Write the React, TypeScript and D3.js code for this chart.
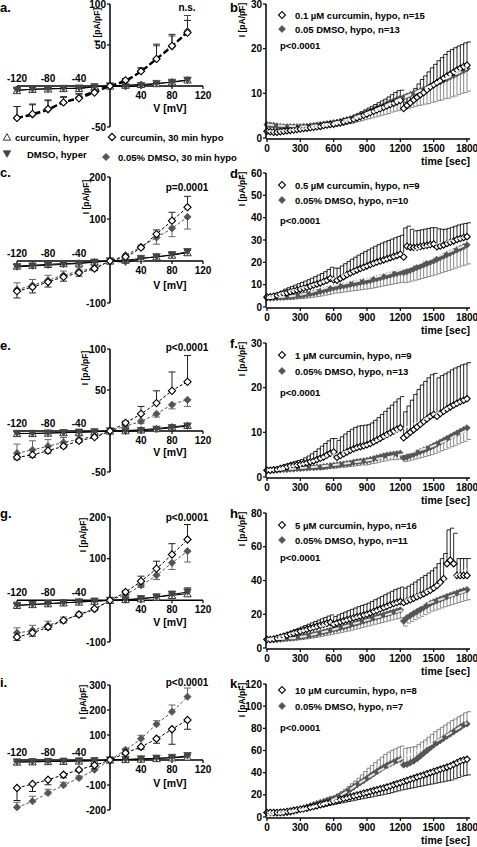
import React from 'react';
import * as d3 from 'd3';

const FONT = '"Liberation Sans", Arial, Helvetica, sans-serif';

// ---------------- IV data (voltage steps) ----------------
const V = [-120, -100, -80, -60, -40, -20, 0, 20, 40, 60, 80, 100];
const X_TICKS_NEG = [-120, -80, -40];
const X_TICKS_POS = [40, 80, 120];

// panel a
const aCurHyper = [-5.5, -4, -3.5, -3, -3, -1, 0, 1, 2, 3, 5, 7.5];
const aCurHyperErr = [2, 2, 2, 1.5, 1.5, 1, 0.5, 1, 1, 1, 1.5, 2];
const aDmsoHyper = [-5, -4, -3.5, -3, -2.5, -1, 0, -1, 0.5, 3, 4.5, 7];
const aDmsoHyperErr = [2, 2, 1.5, 1.5, 1, 1, 0.5, 1, 1, 1, 1.5, 2];
const aCurHypo = [-39, -34, -28, -20, -15, -8, 0, 7, 18, 33, 49, 65];
const aCurHypoErr = [14, 12, 11, 7, 5, 3, 1, 2, 4, 18, 14, 15];
const aDmsoHypo = [-39, -35, -29, -20, -14, -6, 0, 6, 18, 33, 48, 67];
const aDmsoHypoErr = [14, 12, 11, 6, 5, 3, 1, 2, 4, 16, 13, 19];

// panel c
const cCurHyper = [-12, -10, -8, -6, -5, -2, 0, 2, 6, 10, 14, 20];
const cCurHyperErr = [5, 4, 4, 3, 3, 3, 1, 2, 3, 3, 4, 5];
const cDmsoHyper = [-14, -12, -10, -8, -6, -3, 0, -3, 6, 10, 15, 22];
const cDmsoHyperErr = [4, 4, 3, 3, 3, 2, 1, 2, 3, 4, 5, 6];
const cCurHypo = [-72, -62, -50, -38, -28, -18, 0, 10, 32, 64, 96, 128];
const cCurHypoErr = [-16, -14, -12, -10, -8, -5, 0, 3, 6, 10, 20, 26];
const cDmsoHypo = [-68, -58, -46, -34, -24, -16, 0, 14, 34, 56, 78, 105];
const cDmsoHypoErr = [16, 14, 12, 10, 8, 5, 0, -3, -6, -16, -20, -29];

// panel e
const eCurHyper = [-3, -3, -2.5, -2, -1.5, -1, 0, 0.5, 1.5, 3, 5, 7];
const eCurHyperErr = [2, 2, 2, 2, 2, 1, 0.5, 1, 1, 1, 2, 2];
const eDmsoHyper = [-3, -3, -2.5, -2, -1.5, -1, 0, -0.5, 0.5, 2, 4, 6];
const eDmsoHyperErr = [2, 2, 2, 2, 1.5, 1, 0.5, 1, 1, 1, 1.5, 2];
const eCurHypo = [-32, -29, -24, -18.5, -12, -7.5, 0, 10, 21, 34, 49, 60];
const eCurHypoErr = [-3, -3, -3, -2, -2, -1, 0, 2, 9, 15, 23, 32];
const eDmsoHypo = [-27, -23, -18.5, -14, -10, -6, 0, 6, 12, 21, 32, 38];
const eDmsoHypoErr = [11, 11, 8, 6, 4, 3, 0, -2, -3, -4, -5, -8];

// panel g
const gCurHyper = [-12, -10, -8, -6, -4, -2, 0, 2, 4, 8, 12, 16];
const gCurHyperErr = [4, 4, 3, 3, 3, 2, 1, 2, 2, 3, 4, 4];
const gDmsoHyper = [-12, -10, -8, -6, -4, -2, 0, 1, 4, 8, 14, 20];
const gDmsoHyperErr = [3, 3, 3, 3, 3, 2, 1, 3, 4, 6, 8, 10];
const gCurHypo = [-88, -78, -64, -48, -34, -20, 0, 20, 46, 76, 110, 146];
const gCurHypoErr = [-8, -8, -6, -6, -5, -4, 0, 3, 12, 18, 26, 36];
const gDmsoHypo = [-78, -72, -60, -48, -34, -22, 0, 14, 36, 60, 90, 118];
const gDmsoHypoErr = [12, 12, 10, 8, 6, 4, 0, -3, -5, -10, -16, -26];

// panel i
const iCurHyper = [-8, -7, -6, -5, -4, -3, 0, 2, 4, 6, 9, 12];
const iCurHyperErr = [4, 4, 3, 3, 3, 3, 1, 3, 3, 4, 4, 5];
const iDmsoHyper = [-8, -7, -6, -5, -4, -3, 0, 2, 4, 7, 10, 17];
const iDmsoHyperErr = [3, 3, 3, 3, 3, 3, 1, 3, 3, 4, 5, 6];
const iCurHypo = [-112, -96, -79, -59, -39, -21, 0, 28, 53, 85, 123, 160];
const iCurHypoErr = [-50, -30, -20, -12, -8, -5, 0, -4, -10, -18, -60, -37];
const iDmsoHypo = [-189, -165, -132, -101, -72, -39, 0, 41, 85, 143, 193, 253];
const iDmsoHypoErr = [20, 20, 15, 12, 8, 5, 0, 5, 14, 14, 27, 35];

// ---------------- time course data (every 30 s) ----------------
const T = d3.range(0, 1801, 30);
const FT = [0, 300, 600, 900, 1200, 1500, 1800];
const TIME_TICKS = [0, 300, 600, 900, 1200, 1500, 1800];

// panel b
const bCur = [
  1.5, 1.4, 1.3, 1.3, 1.4, 1.5, 1.6, 1.7, 1.8, 1.9,
  2.0, 2.1, 2.2, 2.3, 2.4, 2.5, 2.6, 2.8, 2.9, 3.0,
  3.1, 3.3, 3.4, 3.6, 3.8, 4.0, 4.2, 4.5, 4.8, 5.1,
  5.4, 5.7, 6.0, 6.3, 6.6, 6.9, 7.2, 7.5, 7.8, 8.1,
  8.4, 6.6, 7.3, 7.9, 8.5, 9.1, 9.7, 10.2, 10.8, 11.4,
  11.9, 12.4, 12.9, 13.4, 13.9, 14.3, 14.8, 15.2, 15.6, 16.0,
  16.3];
const bCurErr = [
  0.4, 0.3, 0.3, 0.3, 0.3, 0.3, 0.3, 0.3, 0.3, 0.3,
  0.3, 0.3, 0.3, 0.4, 0.4, 0.4, 0.4, 0.5, 0.5, 0.5,
  0.5, 0.6, 0.6, 0.7, 0.7, 0.8, 0.9, 1.0, 1.1, 1.2,
  1.3, 1.4, 1.5, 1.6, 1.7, 1.8, 2.0, 2.2, 2.4, 2.5,
  2.3, 1.4, 1.8, 2.2, 2.6, 3.0, 3.4, 3.7, 4.0, 4.3,
  4.6, 4.9, 5.1, 5.3, 5.5, 5.5, 5.4, 5.4, 5.3, 5.3,
  5.2];
const bDmso = [
  3.0, 2.9, 2.8, 2.7, 2.6, 2.5, 2.5, 2.5, 2.5, 2.5,
  2.5, 2.6, 2.6, 2.7, 2.8, 2.9, 3.0, 3.1, 3.2, 3.3,
  3.4, 3.5, 3.7, 3.9, 4.1, 4.3, 4.6, 4.9, 5.2, 5.5,
  5.8, 6.1, 6.4, 6.7, 7.0, 7.3, 7.6, 8.0, 8.3, 8.6,
  8.9, 9.1, 9.4, 9.7, 10.0, 10.3, 10.6, 10.9, 11.2, 11.6,
  11.9, 12.3, 12.6, 13.0, 13.3, 13.7, 14.0, 14.4, 14.8, 15.1,
  15.5];
const bDmsoErr = [
  0.6, 0.6, 0.6, 0.5, 0.5, 0.5, 0.5, 0.5, 0.5, 0.5,
  0.5, 0.5, 0.5, 0.5, 0.5, 0.6, 0.6, 0.6, 0.7, 0.7,
  0.7, 0.8, 0.8, 0.9, 0.9, 1.0, 1.1, 1.2, 1.3, 1.4,
  1.5, 1.6, 1.7, 1.8, 1.9, 2.0, 2.1, 2.2, 2.3, 2.4,
  2.5, 2.6, 2.7, 2.8, 2.9, 3.0, 3.2, 3.3, 3.5, 3.6,
  3.8, 3.9, 4.1, 4.2, 4.4, 4.5, 4.6, 4.7, 4.8, 4.9,
  5.0];
const bCurFit = [1.5, 2.0, 3.1, 5.2, 8.5, 12.0, 16.0];
const bDmsoFit = [3.0, 2.6, 3.4, 5.6, 8.8, 12.0, 15.5];

// panel d
const dCur = [
  4.5, 4.6, 4.8, 5.2, 5.6, 6.0, 6.4, 6.8, 7.2, 7.6,
  8.0, 8.4, 8.8, 9.3, 9.8, 10.3, 10.8, 11.4, 12.0, 12.8,
  12.2, 12.0, 12.8, 13.6, 14.4, 15.2, 15.9, 16.6, 17.2, 17.8,
  18.4, 19.0, 19.6, 20.1, 20.6, 21.1, 21.6, 22.1, 22.6, 23.1,
  23.6, 22.4, 27.2, 26.8, 26.6, 26.8, 27.1, 27.4, 27.7, 28.0,
  28.2, 27.0, 27.3, 27.8, 28.4, 29.0, 29.6, 30.2, 30.7, 31.1,
  31.5];
const dCurErr = [
  0.5, 0.6, 0.8, 1.0, 1.5, 2.0, 2.2, 2.4, 2.6, 2.8,
  3.0, 3.2, 3.4, 3.6, 3.8, 4.0, 4.2, 4.4, 4.8, 5.0,
  5.2, 5.4, 5.6, 5.8, 6.0, 6.2, 6.4, 6.6, 6.8, 7.0,
  7.2, 7.4, 7.6, 7.8, 8.0, 8.1, 8.2, 8.3, 8.4, 8.5,
  8.5, 13.0, 9.0, 8.0, 7.5, 7.5, 7.5, 7.5, 7.5, 7.5,
  7.3, 8.0, 7.5, 7.0, 6.8, 6.7, 6.6, 6.5, 6.4, 6.3,
  6.2];
const dDmso = [
  4.0, 4.0, 4.1, 4.2, 4.3, 4.4, 4.5, 4.6, 4.8, 5.0,
  5.2, 5.4, 5.7, 6.0, 6.3, 6.6, 7.0, 7.4, 7.8, 8.2,
  8.6, 8.9, 9.2, 9.5, 9.8, 10.1, 10.4, 10.7, 11.0, 11.3,
  11.6, 11.9, 12.3, 12.7, 13.1, 13.5, 13.9, 14.3, 14.7, 15.1,
  15.5, 15.4, 15.9, 16.5, 17.1, 17.7, 18.3, 18.9, 19.5, 20.1,
  20.7, 21.4, 22.1, 22.8, 23.5, 24.2, 24.9, 25.6, 26.3, 27.0,
  27.8];
const dDmsoErr = [
  0.5, 0.5, 0.6, 0.7, 0.8, 0.9, 1.0, 1.1, 1.2, 1.3,
  1.4, 1.5, 1.6, 1.7, 1.8, 1.9, 2.0, 2.1, 2.2, 2.3,
  2.4, 2.5, 2.6, 2.7, 2.8, 2.9, 3.0, 3.1, 3.2, 3.3,
  3.4, 3.5, 3.6, 3.7, 3.8, 3.9, 4.0, 4.1, 4.2, 4.3,
  4.4, 4.5, 4.7, 4.9, 5.1, 5.3, 5.5, 5.7, 5.9, 6.1,
  6.3, 6.5, 6.7, 6.9, 7.1, 7.3, 7.5, 7.7, 7.9, 8.2,
  8.5];
const dCurFit = [4.5, 8.5, 13.0, 18.5, 23.5, 28.0, 31.5];
const dDmsoFit = [4.0, 5.5, 9.5, 12.5, 16.5, 22.0, 28.0];

// panel f
const fCur = [
  1.5, 1.5, 1.6, 1.7, 1.9, 2.1, 2.3, 2.5, 2.6, 2.7,
  2.8, 3.0, 3.2, 3.4, 3.6, 3.9, 4.2, 4.5, 4.9, 5.3,
  5.6, 4.4, 4.8, 5.2, 5.6, 6.0, 6.3, 6.6, 6.8, 7.0,
  7.2, 7.5, 7.9, 8.3, 8.7, 9.1, 9.5, 9.9, 10.3, 10.7,
  11.0, 8.8, 9.4, 10.0, 10.6, 11.2, 11.8, 12.4, 13.0, 13.6,
  14.0, 13.6, 14.2, 14.7, 15.2, 15.7, 16.1, 16.5, 16.9, 17.2,
  17.5];
const fCurErr = [
  0.3, 0.3, 0.3, 0.4, 0.5, 0.6, 0.7, 0.8, 0.9, 1.0,
  1.1, 1.3, 1.5, 1.8, 2.1, 2.4, 2.7, 3.0, 3.2, 3.3,
  3.0, 3.8, 4.2, 4.4, 4.6, 4.7, 4.8, 4.8, 4.7, 4.6,
  4.5, 4.6, 4.8, 5.0, 5.3, 5.6, 5.9, 6.2, 6.5, 6.8,
  7.0, 5.8, 6.5, 7.2, 7.9, 8.4, 8.8, 9.0, 9.2, 9.3,
  9.2, 8.6, 8.5, 8.4, 8.3, 8.3, 8.3, 8.2, 8.2, 8.1,
  8.1];
const fDmso = [
  1.5, 1.5, 1.5, 1.6, 1.6, 1.7, 1.7, 1.8, 1.8, 1.9,
  1.9, 2.0, 2.0, 2.1, 2.1, 2.2, 2.2, 2.3, 2.4, 2.5,
  2.6, 2.7, 2.8, 2.9, 3.0, 3.1, 3.3, 3.4, 3.5, 3.6,
  3.7, 3.9, 4.1, 4.3, 4.5, 4.7, 4.9, 5.0, 5.1, 5.2,
  5.3, 4.3, 4.5, 4.8, 5.1, 5.4, 5.7, 6.0, 6.3, 6.6,
  7.0, 7.4, 7.8, 8.2, 8.6, 9.0, 9.4, 9.8, 10.2, 10.6,
  11.0];
const fDmsoErr = [
  0.3, 0.3, 0.3, 0.3, 0.3, 0.3, 0.3, 0.3, 0.3, 0.3,
  0.3, 0.3, 0.4, 0.4, 0.4, 0.4, 0.5, 0.5, 0.5, 0.5,
  0.6, 0.6, 0.6, 0.7, 0.7, 0.7, 0.8, 0.8, 0.8, 0.9,
  0.9, 0.9, 1.0, 1.0, 1.0, 1.1, 1.1, 1.1, 1.2, 1.2,
  1.2, 0.8, 0.9, 1.0, 1.1, 1.2, 1.3, 1.4, 1.5, 1.6,
  1.7, 1.8, 1.9, 2.0, 2.1, 2.2, 2.3, 2.4, 2.5, 2.6,
  2.6];
const fCurFit = [1.5, 2.8, 5.0, 7.2, 10.5, 14.0, 17.5];
const fDmsoFit = [1.5, 2.0, 2.7, 3.7, 5.0, 7.0, 10.5];

// panel h
const hCur = [
  5.0, 5.0, 5.3, 5.8, 6.3, 6.9, 7.5, 8.1, 8.7, 9.3,
  9.9, 10.5, 11.1, 11.7, 12.3, 12.9, 13.5, 14.1, 14.7, 15.2,
  14.0, 14.8, 15.5, 16.1, 16.7, 17.3, 17.9, 18.5, 19.0, 19.5,
  20.0, 20.8, 21.6, 22.4, 23.2, 24.0, 24.8, 25.6, 26.4, 27.0,
  27.5, 27.0, 27.8, 28.6, 29.5, 30.4, 31.3, 32.2, 33.2, 34.2,
  35.5, 37.0, 39.0, 41.0, 50.0, 52.0, 50.0, 43.0, 43.0, 43.0,
  43.0];
const hCurErr = [
  0.5, 0.8, 1.0, 1.2, 1.4, 1.6, 1.8, 2.0, 2.2, 2.4,
  2.6, 2.8, 3.0, 3.2, 3.4, 3.6, 3.8, 4.0, 4.2, 4.4,
  4.6, 4.8, 5.0, 5.2, 5.4, 5.6, 5.8, 6.0, 6.2, 6.4,
  6.6, 6.8, 7.0, 7.2, 7.4, 7.6, 7.8, 8.0, 8.2, 8.4,
  8.6, 8.5, 8.8, 9.2, 9.6, 10.0, 10.4, 10.8, 11.2, 11.6,
  12.0, 13.0, 14.0, 15.0, 20.0, 19.0, 18.0, 10.0, 10.0, 10.0,
  10.0];
const hDmso = [
  5.0, 4.9, 4.9, 5.0, 5.2, 5.4, 5.6, 5.8, 6.0, 6.3,
  6.6, 6.9, 7.3, 7.7, 8.1, 8.5, 9.0, 9.5, 10.0, 10.5,
  11.0, 11.5, 12.0, 12.5, 13.0, 13.6, 14.2, 14.8, 15.4, 16.0,
  16.6, 17.2, 17.8, 18.4, 19.0, 19.6, 20.2, 20.8, 21.4, 22.0,
  22.5, 16.0, 18.0, 19.2, 20.4, 21.6, 22.8, 24.0, 25.2, 26.4,
  27.3, 28.1, 28.9, 29.7, 30.5, 31.2, 31.9, 32.6, 33.3, 34.0,
  34.5];
const hDmsoErr = [
  0.5, 0.6, 0.7, 0.8, 0.9, 1.0, 1.1, 1.2, 1.3, 1.4,
  1.5, 1.6, 1.7, 1.8, 1.9, 2.0, 2.1, 2.2, 2.3, 2.4,
  2.5, 2.6, 2.7, 2.8, 2.9, 3.0, 3.1, 3.2, 3.3, 3.4,
  3.5, 3.6, 3.7, 3.8, 3.9, 4.0, 4.1, 4.2, 4.3, 4.4,
  4.5, 3.0, 3.2, 3.4, 3.6, 3.8, 4.0, 4.2, 4.4, 4.6,
  4.8, 5.0, 5.1, 5.2, 5.3, 5.4, 5.5, 5.6, 5.7, 5.8,
  5.9];
const hCurFit = [5.0, 10.0, 14.5, 20.0, 27.5, 36.0, 47.0];
const hDmsoFit = [5.0, 6.5, 11.0, 16.5, 22.0, 27.5, 34.0];

// panel k
const kCur = [
  4.0, 4.0, 4.0, 4.0, 4.2, 4.5, 5.0, 5.5, 6.0, 6.5,
  7.0, 7.5, 8.0, 8.7, 9.4, 10.2, 11.0, 11.8, 12.6, 13.4,
  14.2, 15.0, 15.8, 16.6, 17.4, 18.2, 19.0, 19.8, 20.6, 21.4,
  22.2, 23.0, 23.8, 24.6, 25.4, 26.2, 27.0, 28.0, 29.0, 30.0,
  31.0, 32.0, 33.0, 34.0, 35.0, 36.0, 37.0, 38.0, 39.0, 40.0,
  41.0, 42.0, 43.0, 44.0, 45.0, 46.0, 47.5, 49.0, 50.5, 51.5,
  52.0];
const kCurErr = [
  1.0, 1.0, 1.0, 1.0, 1.0, 1.0, 1.0, 1.0, 1.0, 1.0,
  1.0, 1.0, 1.0, 1.2, 1.4, 1.6, 1.8, 2.0, 2.2, 2.4,
  2.6, 2.8, 3.0, 3.2, 3.4, 3.6, 3.8, 4.0, 4.2, 4.4,
  4.6, 4.8, 5.0, 5.2, 5.4, 5.6, 5.8, 6.0, 6.2, 6.4,
  6.6, 7.0, 7.4, 7.8, 8.2, 8.6, 9.0, 9.4, 9.8, 10.2,
  10.6, 11.0, 11.4, 11.8, 12.2, 12.6, 13.0, 13.4, 13.7, 14.0,
  14.0];
const kDmso = [
  4.0, 3.8, 3.6, 3.5, 3.5, 3.6, 3.8, 4.2, 5.0, 6.0,
  7.0, 8.0, 9.0, 10.0, 11.0, 12.0, 13.0, 14.0, 15.0, 16.0,
  16.5, 18.0, 19.5, 21.0, 23.0, 25.0, 27.0, 29.0, 31.0, 33.0,
  35.0, 37.0, 39.0, 41.0, 43.0, 45.0, 46.5, 48.0, 49.5, 51.0,
  52.0, 47.0, 47.5, 49.0, 50.5, 52.5, 55.0, 57.5, 60.0, 62.5,
  65.0, 67.0, 69.0, 71.0, 73.0, 75.0, 77.0, 79.0, 81.0, 83.0,
  84.0];
const kDmsoErr = [
  1.0, 1.0, 1.0, 1.0, 1.0, 1.0, 1.0, 1.0, 1.0, 1.0,
  1.0, 1.0, 1.0, 1.2, 1.4, 1.6, 1.8, 2.0, 2.2, 2.4,
  2.6, 3.0, 3.5, 4.0, 4.5, 5.0, 5.5, 6.0, 7.0, 8.0,
  9.0, 9.5, 10.0, 10.5, 11.0, 11.5, 12.0, 12.0, 12.0, 12.0,
  12.0, 15.0, 15.0, 14.0, 13.0, 13.0, 12.5, 12.0, 12.0, 12.0,
  12.0, 12.0, 12.0, 12.0, 12.0, 12.0, 11.5, 11.5, 11.0, 11.0,
  11.0];
const kCurFit = [4.0, 7.0, 14.0, 22.0, 31.0, 41.0, 52.0];
const kDmsoFit = [2.0, 6.0, 16.0, 35.0, 52.0, 67.0, 85.0];

// ---------------- styling helpers ----------------
const BLACK = '#000';
const DGREY = '#555';
const BARGREY = '#7a7a7a';

const sq = (size: number) => d3.symbol().type(d3.symbolSquare).size(size)() as string;
const tri = (size: number) => d3.symbol().type(d3.symbolTriangle).size(size)() as string;

function Marker({ kind, x, y, s = 1 }: { kind: string; x: number; y: number; s?: number }) {
  if (kind === 'diaOpen')
    return <path d={sq(26 * s)} transform={`translate(${x},${y}) rotate(45)`} fill="#fff" stroke={BLACK} strokeWidth={1.1} />;
  if (kind === 'diaFill')
    return <path d={sq(26 * s)} transform={`translate(${x},${y}) rotate(45)`} fill={DGREY} stroke={DGREY} strokeWidth={0.8} />;
  if (kind === 'triUp')
    return <path d={tri(24 * s)} transform={`translate(${x},${y + 1})`} fill="#fff" stroke="#333" strokeWidth={1} />;
  return <path d={tri(24 * s)} transform={`translate(${x},${y - 1}) rotate(180)`} fill="#444" stroke="#444" strokeWidth={0.8} />;
}

const txt = (size: number) => ({ fontFamily: FONT, fontWeight: 700, fontSize: size });

// ---------------- IV panel ----------------
type IVSeries = { vals: number[]; errs: number[]; kind: string; dashed: boolean; color: string; barColor: string };
type IVPanelCfg = {
  letter: string; letterY: number; yDomain: [number, number]; yRange: [number, number];
  yTicks: number[]; note: string; noteY: number; titleX: number; titleY: number; vLabelDy: number;
  thickDash: boolean; series: IVSeries[];
};

const IV_PANELS: IVPanelCfg[] = [
  {
    letter: 'a.', letterY: 12, yDomain: [-50, 100], yRange: [127, 4], yTicks: [100, 50, -50], note: 'n.s.', noteY: 11,
    titleX: 97, titleY: 25, vLabelDy: 26, thickDash: true,
    series: [
      { vals: aCurHyper, errs: aCurHyperErr, kind: 'triUp', dashed: false, color: BLACK, barColor: '#333' },
      { vals: aDmsoHyper, errs: aDmsoHyperErr, kind: 'triDown', dashed: false, color: BLACK, barColor: '#333' },
      { vals: aDmsoHypo, errs: aDmsoHypoErr, kind: 'diaFill', dashed: true, color: BLACK, barColor: '#444' },
      { vals: aCurHypo, errs: aCurHypoErr, kind: 'diaOpen', dashed: true, color: BLACK, barColor: '#222' },
    ],
  },
  {
    letter: 'c.', letterY: 177, yDomain: [-100, 200], yRange: [303, 177], yTicks: [200, 100, -100], note: 'p=0.0001', noteY: 191,
    titleX: 86, titleY: 197, vLabelDy: 28, thickDash: false,
    series: [
      { vals: cCurHyper, errs: cCurHyperErr, kind: 'triUp', dashed: false, color: BLACK, barColor: '#333' },
      { vals: cDmsoHyper, errs: cDmsoHyperErr, kind: 'triDown', dashed: false, color: BLACK, barColor: '#333' },
      { vals: cDmsoHypo, errs: cDmsoHypoErr, kind: 'diaFill', dashed: true, color: DGREY, barColor: '#666' },
      { vals: cCurHypo, errs: cCurHypoErr, kind: 'diaOpen', dashed: true, color: BLACK, barColor: '#222' },
    ],
  },
  {
    letter: 'e.', letterY: 350, yDomain: [-50, 100], yRange: [472, 349], yTicks: [100, 50, -50], note: 'p<0.0001', noteY: 351,
    titleX: 85, titleY: 368, vLabelDy: 25, thickDash: false,
    series: [
      { vals: eCurHyper, errs: eCurHyperErr, kind: 'triUp', dashed: false, color: BLACK, barColor: '#333' },
      { vals: eDmsoHyper, errs: eDmsoHyperErr, kind: 'triDown', dashed: false, color: BLACK, barColor: '#333' },
      { vals: eDmsoHypo, errs: eDmsoHypoErr, kind: 'diaFill', dashed: true, color: DGREY, barColor: '#666' },
      { vals: eCurHypo, errs: eCurHypoErr, kind: 'diaOpen', dashed: true, color: BLACK, barColor: '#222' },
    ],
  },
  {
    letter: 'g.', letterY: 518, yDomain: [-100, 200], yRange: [642, 517], yTicks: [200, 100, -100], note: 'p<0.0001', noteY: 521,
    titleX: 83, titleY: 535, vLabelDy: 26, thickDash: false,
    series: [
      { vals: gCurHyper, errs: gCurHyperErr, kind: 'triUp', dashed: false, color: BLACK, barColor: '#333' },
      { vals: gDmsoHyper, errs: gDmsoHyperErr, kind: 'triDown', dashed: false, color: BLACK, barColor: '#333' },
      { vals: gDmsoHypo, errs: gDmsoHypoErr, kind: 'diaFill', dashed: true, color: DGREY, barColor: '#666' },
      { vals: gCurHypo, errs: gCurHypoErr, kind: 'diaOpen', dashed: true, color: BLACK, barColor: '#222' },
    ],
  },
  {
    letter: 'i.', letterY: 687, yDomain: [-200, 300], yRange: [810, 685], yTicks: [300, 200, 100, -100, -200], note: 'p<0.0001', noteY: 686,
    titleX: 83, titleY: 702, vLabelDy: 27, thickDash: false,
    series: [
      { vals: iCurHyper, errs: iCurHyperErr, kind: 'triUp', dashed: false, color: BLACK, barColor: '#333' },
      { vals: iDmsoHyper, errs: iDmsoHyperErr, kind: 'triDown', dashed: false, color: BLACK, barColor: '#333' },
      { vals: iDmsoHypo, errs: iDmsoHypoErr, kind: 'diaFill', dashed: true, color: DGREY, barColor: '#666' },
      { vals: iCurHypo, errs: iCurHypoErr, kind: 'diaOpen', dashed: true, color: BLACK, barColor: '#222' },
    ],
  },
];

function IVPanel({ p }: { p: IVPanelCfg }) {
  const x = d3.scaleLinear().domain([-120, 120]).range([17, 203]);
  const y = d3.scaleLinear().domain(p.yDomain).range(p.yRange);
  const y0 = y(0);
  const ax = x(0);
  const line = d3.line<number>().x((_, i) => x(V[i])).y((d) => y(d)).curve(d3.curveMonotoneX);
  return (
    <g>
      <text x={0} y={p.letterY} style={txt(13)}>{p.letter}</text>
      {p.series.map((s, si) => (
        <path key={'l' + si} d={line(s.vals) || ''} fill="none" stroke={s.color}
          strokeWidth={s.dashed ? (p.thickDash ? 2 : 1) : 1}
          strokeDasharray={s.dashed ? (p.thickDash ? '6,3' : '3,2') : undefined} />
      ))}
      <line x1={ax} x2={ax} y1={y(p.yDomain[1])} y2={y(p.yDomain[0])} stroke={BLACK} strokeWidth={1.5} />
      {p.yTicks.concat([0]).map((t) => (
        <line key={'yt' + t} x1={ax - 3} x2={ax} y1={y(t)} y2={y(t)} stroke={BLACK} strokeWidth={1.2} />
      ))}
      {p.yTicks.map((t) => (
        <text key={'yl' + t} x={ax - 4} y={y(t) + 3.5} textAnchor="end" style={txt(10)}>{t}</text>
      ))}
      <line x1={x(-120)} x2={x(120)} y1={y0} y2={y0} stroke={BLACK} strokeWidth={1.5} />
      {X_TICKS_NEG.concat(X_TICKS_POS).map((t) => (
        <line key={'xt' + t} x1={x(t)} x2={x(t)} y1={y0} y2={y0 + 3} stroke={BLACK} strokeWidth={1.2} />
      ))}
      {X_TICKS_NEG.map((t) => (
        <text key={'xn' + t} x={x(t)} y={y0 - 4} textAnchor="middle" style={txt(10)}>{t}</text>
      ))}
      {X_TICKS_POS.map((t) => (
        <text key={'xp' + t} x={x(t)} y={y0 + 13} textAnchor="middle" style={txt(10)}>{t}</text>
      ))}
      <text x={170} y={y0 + p.vLabelDy} textAnchor="middle" style={txt(10.5)}>V [mV]</text>
      <text transform={`translate(${p.titleX + 3},${p.titleY}) rotate(-90)`} textAnchor="middle" style={txt(8.5)}>I [pA/pF]</text>
      <text x={187} y={p.noteY} textAnchor="middle" style={txt(10)}>{p.note}</text>
      {p.series.map((s, si) => (
        <g key={'e' + si} stroke={s.barColor} strokeWidth={1}>
          {s.vals.map((v, i) => {
            const e = s.errs[i];
            if (!e) return null;
            const yy = y(v + e);
            return (
              <g key={i}>
                <line x1={x(V[i])} x2={x(V[i])} y1={y(v)} y2={yy} />
                <line x1={x(V[i]) - 3.5} x2={x(V[i]) + 3.5} y1={yy} y2={yy} />
              </g>
            );
          })}
        </g>
      ))}
      {p.series.map((s, si) => (
        <g key={'m' + si}>
          {s.vals.map((v, i) => <Marker key={i} kind={s.kind} x={x(V[i])} y={y(v)} />)}
        </g>
      ))}
    </g>
  );
}

// ---------------- time panel ----------------
type TPanelCfg = {
  letter: string; letterY: number; yDomain: [number, number]; yRange: [number, number]; yTicks: number[];
  leg1: string; leg2: string; legY: [number, number, number];
  cur: number[]; curErr: number[]; curUp: boolean; dmso: number[]; dmsoErr: number[]; dmsoUp: boolean;
  curFit: number[]; dmsoFit: number[];
};

const T_PANELS: TPanelCfg[] = [
  {
    letter: 'b.', letterY: 12, yDomain: [0, 30], yRange: [138, 4], yTicks: [0, 10, 20, 30],
    leg1: '0.1 \u00b5M curcumin, hypo, n=15', leg2: '0.05 DMSO, hypo, n=13', legY: [15, 29, 45],
    cur: bCur, curErr: bCurErr, curUp: true, dmso: bDmso, dmsoErr: bDmsoErr, dmsoUp: false, curFit: bCurFit, dmsoFit: bDmsoFit,
  },
  {
    letter: 'd.', letterY: 178, yDomain: [0, 60], yRange: [307, 173], yTicks: [0, 10, 20, 30, 40, 50, 60],
    leg1: '0.5 \u00b5M curcumin, hypo, n=9', leg2: '0.05% DMSO, hypo, n=10', legY: [185, 200, 220],
    cur: dCur, curErr: dCurErr, curUp: true, dmso: dDmso, dmsoErr: dDmsoErr, dmsoUp: false, curFit: dCurFit, dmsoFit: dDmsoFit,
  },
  {
    letter: 'f.', letterY: 348, yDomain: [0, 30], yRange: [477, 343], yTicks: [0, 10, 20, 30],
    leg1: '1 \u00b5M curcumin, hypo, n=9', leg2: '0.05% DMSO, hypo, n=13', legY: [355, 371, 392],
    cur: fCur, curErr: fCurErr, curUp: true, dmso: fDmso, dmsoErr: fDmsoErr, dmsoUp: false, curFit: fCurFit, dmsoFit: fDmsoFit,
  },
  {
    letter: 'h.', letterY: 518, yDomain: [0, 80], yRange: [648, 513], yTicks: [0, 20, 40, 60, 80],
    leg1: '5 \u00b5M curcumin, hypo, n=16', leg2: '0.05% DMSO, hypo, n=11', legY: [525, 540, 557],
    cur: hCur, curErr: hCurErr, curUp: true, dmso: hDmso, dmsoErr: hDmsoErr, dmsoUp: false, curFit: hCurFit, dmsoFit: hDmsoFit,
  },
  {
    letter: 'k.', letterY: 688, yDomain: [0, 120], yRange: [817, 684], yTicks: [0, 20, 40, 60, 80, 100, 120],
    leg1: '10 \u00b5M curcumin, hypo, n=8', leg2: '0.05% DMSO, hypo, n=7', legY: [690, 706, 727],
    cur: kCur, curErr: kCurErr, curUp: false, dmso: kDmso, dmsoErr: kDmsoErr, dmsoUp: true, curFit: kCurFit, dmsoFit: kDmsoFit,
  },
];

function TimePanel({ p }: { p: TPanelCfg }) {
  const x = d3.scaleLinear().domain([0, 1800]).range([267, 467]);
  const y = d3.scaleLinear().domain(p.yDomain).range(p.yRange);
  const yb = y(0);
  const fitLine = d3.line<number>().x((_, i) => x(FT[i])).y((d) => y(d)).curve(d3.curveMonotoneX);
  const bars = (vals: number[], errs: number[], up: boolean, color: string) => (
    <g stroke={color} strokeWidth={0.9}>
      {vals.map((v, i) => {
        const yy = y(up ? v + errs[i] : v - errs[i]);
        const xx = x(T[i]);
        return (
          <g key={i}>
            <line x1={xx} x2={xx} y1={y(v)} y2={yy} />
            <line x1={xx} x2={xx + 4} y1={yy} y2={yy} />
          </g>
        );
      })}
    </g>
  );
  return (
    <g>
      <text x={230} y={p.letterY} style={txt(13)}>{p.letter}</text>
      {bars(p.dmso, p.dmsoErr, p.dmsoUp, BARGREY)}
      {bars(p.cur, p.curErr, p.curUp, '#111')}
      {p.dmso.map((v, i) => <Marker key={'d' + i} kind="diaFill" x={x(T[i])} y={y(v)} s={0.8} />)}
      {p.cur.map((v, i) => <Marker key={'c' + i} kind="diaOpen" x={x(T[i])} y={y(v)} s={0.8} />)}
      <path d={fitLine(p.dmsoFit) || ''} fill="none" stroke="#fff" strokeWidth={2} strokeDasharray="7,4" opacity={0.85} />
      <path d={fitLine(p.curFit) || ''} fill="none" stroke="#fff" strokeWidth={1.6} strokeDasharray="7,4" opacity={0.7} />
      <line x1={266} x2={266} y1={p.yRange[1]} y2={yb} stroke={BLACK} strokeWidth={1.5} />
      {p.yTicks.map((t) => (
        <g key={'yt' + t}>
          <line x1={263} x2={266} y1={y(t)} y2={y(t)} stroke={BLACK} strokeWidth={1.2} />
          <text x={262} y={y(t) + 3.5} textAnchor="end" style={txt(10)}>{t}</text>
        </g>
      ))}
      <line x1={266} x2={470} y1={yb + 1} y2={yb + 1} stroke={BLACK} strokeWidth={1.5} />
      {TIME_TICKS.map((t) => (
        <g key={'xt' + t}>
          <line x1={x(t)} x2={x(t)} y1={yb + 1} y2={yb + 4} stroke={BLACK} strokeWidth={1.2} />
          <text x={x(t)} y={yb + 14} textAnchor="middle" style={txt(10)}>{t}</text>
        </g>
      ))}
      <text x={470} y={yb + 27} textAnchor="end" style={txt(10.5)}>time [sec]</text>
      <text transform={`translate(${245},${p.yRange[1] + 16}) rotate(-90)`} textAnchor="middle" style={txt(8.5)}>I [pA/pF]</text>
      <Marker kind="diaOpen" x={282} y={p.legY[0]} s={0.9} />
      <text x={295} y={p.legY[0] + 3.5} style={txt(9.5)}>{p.leg1}</text>
      <Marker kind="diaFill" x={282} y={p.legY[1]} s={0.9} />
      <text x={295} y={p.legY[1] + 3.5} style={txt(9.5)}>{p.leg2}</text>
      <text x={280} y={p.legY[2] + 3.5} style={txt(9.5)}>p&lt;0.0001</text>
    </g>
  );
}

function IVLegend() {
  return (
    <g>
      <Marker kind="triUp" x={7} y={137} />
      <text x={15} y={141} style={txt(9.5)}>curcumin, hyper</text>
      <Marker kind="diaOpen" x={112} y={137} />
      <text x={120} y={141} style={txt(9.5)}>curcumin, 30 min hypo</text>
      <Marker kind="triDown" x={7} y={154} />
      <text x={27} y={158} style={txt(9.5)}>DMSO, hyper</text>
      <Marker kind="diaFill" x={106} y={157} />
      <text x={118} y={161} style={txt(9.5)}>0.05% DMSO, 30 min hypo</text>
    </g>
  );
}

export default function App() {
  return (
    <svg width={477} height={847} viewBox="0 0 477 847"
      style={{ position: 'absolute', left: 0, top: 0, display: 'block', background: '#fff' }}>
      <rect x={0} y={0} width={477} height={847} fill="#fff" />
      {IV_PANELS.map((p) => <IVPanel key={p.letter} p={p} />)}
      <IVLegend />
      {T_PANELS.map((p) => <TimePanel key={p.letter} p={p} />)}
    </svg>
  );
}
